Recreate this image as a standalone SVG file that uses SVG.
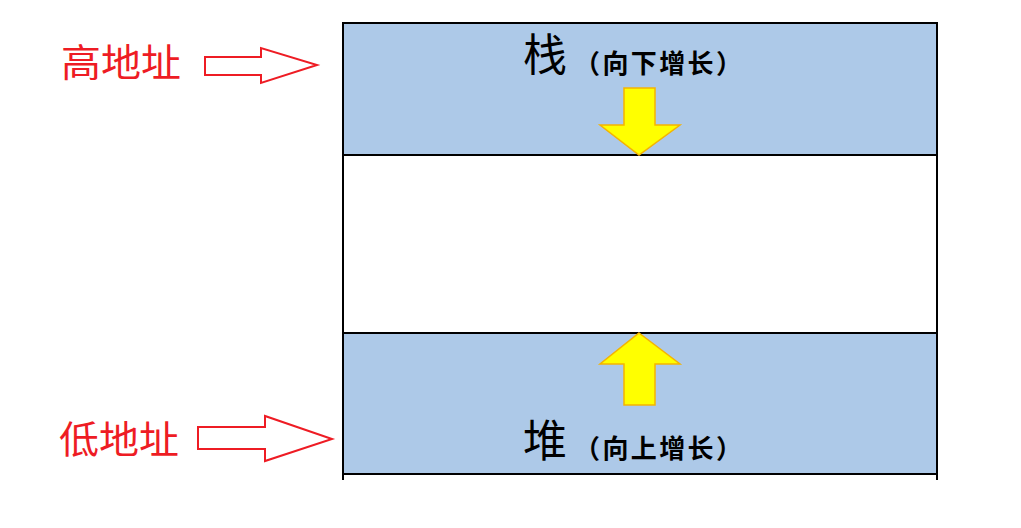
<svg xmlns="http://www.w3.org/2000/svg" width="1021" height="528" viewBox="0 0 1021 528">
<style>
.band{fill:#adc9e8;stroke:none}
.line{stroke:#000;stroke-width:2;fill:none}
.big{font-family:"Liberation Serif","Noto Sans CJK SC",serif;font-size:44px;fill:#000}
.small{font-family:"Noto Sans CJK SC","Noto Sans",sans-serif;font-size:26px;font-weight:bold;fill:#000}
.lbl{font-family:"Noto Sans CJK SC","Noto Sans",sans-serif;font-size:38px;fill:#ee1c24}
.yarrow{fill:#ffff00;stroke:#f5b400;stroke-width:1.5}
.rarrow{fill:#fff;stroke:#ee1c24;stroke-width:2}
</style>
<rect width="1021" height="528" fill="#fff"/>
<g id="stack">
<rect class="band" x="343" y="23" width="594" height="132"/>
<text class="big" x="523" y="71">栈</text>
<text class="small" x="574" y="73" textLength="168" lengthAdjust="spacing">（向下增长）</text>
</g>
<g id="free">
<rect x="343" y="155" width="594" height="178" fill="#fff"/>
</g>
<g id="heap">
<rect class="band" x="343" y="333" width="594" height="141"/>
<text class="big" x="523" y="457">堆</text>
<text class="small" x="574" y="458" textLength="168" lengthAdjust="spacing">（向上增长）</text>
</g>
<g id="borders">
<path class="line" d="M343,23 H937 M343,155 H937 M343,333 H937 M343,474 H937 M343,22 V480 M937,22 V480"/>
</g>
<g id="high">
<text class="lbl" x="61" y="76" textLength="120" lengthAdjust="spacingAndGlyphs">高地址</text>
</g>
<g id="low">
<text class="lbl" x="59" y="453" textLength="120" lengthAdjust="spacingAndGlyphs">低地址</text>
</g>
<g id="connectors">
<polygon class="yarrow" points="624,88 655,88 655,125 680,125 639,155 600,125 624,125"/>
<polygon class="yarrow" points="639,333 680,364 655,364 655,405 624,405 624,364 600,364"/>
<polygon class="rarrow" points="205,57 261,57 261,48 317,65 261,83 261,75 205,75"/>
<polygon class="rarrow" points="198,427 265,427 265,416 332,439 265,461 265,449 198,449"/>
</g>
</svg>
